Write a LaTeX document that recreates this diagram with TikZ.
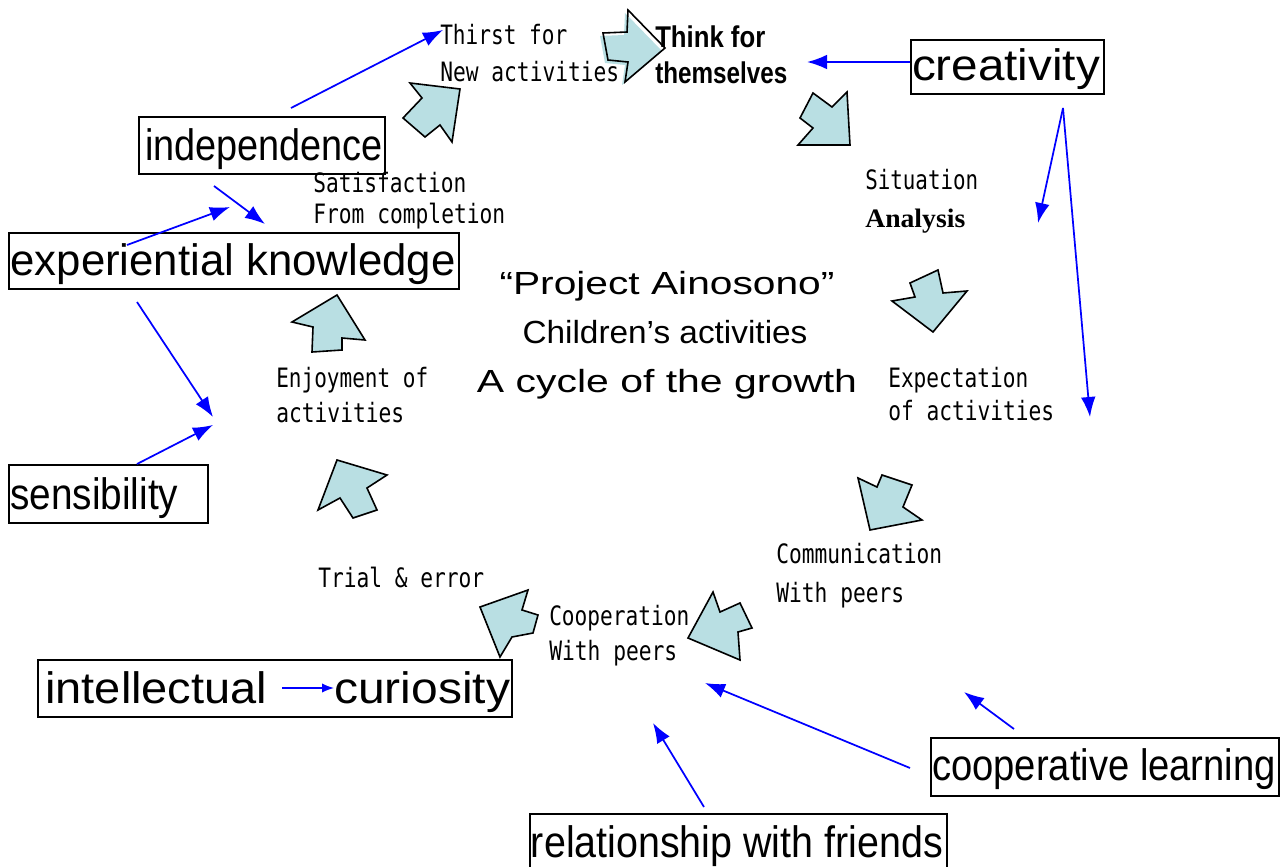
\documentclass[tikz,border=0pt]{standalone}
\usepackage{fontspec}
\usepackage{graphicx}
\setmainfont{Liberation Sans}
\newfontfamily\monofnt{DejaVu Sans Mono}
\newfontfamily\seriffnt{Liberation Serif}
\usetikzlibrary{arrows.meta}
\newlength\pu
\setlength\pu{0.75pt}
\newcommand\fitw[2]{\resizebox{#1\pu}{\height}{#2}}
\definecolor{arrfill}{RGB}{185,223,227}
\begin{document}
\begin{tikzpicture}[x=0.75pt,y=-0.75pt,
  box/.style={draw=black,line width=1.5pt,inner sep=0pt,anchor=north west},
  lbl/.style={inner sep=0pt,anchor=base west},
  clbl/.style={inner sep=0pt,anchor=base},
  big/.style={font=\fontsize{33}{38}\selectfont},
  sm/.style={font=\monofnt\fontsize{20}{23}\selectfont},
  ttl/.style={font=\fontsize{24}{28}\selectfont},
  bld/.style={font=\bfseries\fontsize{22.5}{26}\selectfont},
  conn/.style={blue,line width=1.3pt,-{Latex[length=15pt,width=11pt]}},
  blk/.style={fill=arrfill,draw=black,line width=1.2pt,line join=miter}]
\useasboundingbox (0,0) rectangle (1282,867);

% ---------- block arrows of the cycle ----------
\draw[blk] (410,83) -- (460,89) -- (452,142) -- (440,125) -- (425,137) -- (403,118) -- (422,98) -- cycle;
\begin{scope}[shift={(-3,3)}]
\fill[arrfill] (628,10) -- (665,48) -- (625,82) -- (628,62) -- (608,60) -- (603,33) -- (627,32) -- cycle;
\end{scope}
\draw[line width=1.2pt] (628,10) -- (665,48) -- (625,82) -- (628,62) -- (608,60) -- (603,33) -- (627,32) -- cycle;
\draw[blk] (800,118) -- (813,93) -- (832,107) -- (847,92) -- (850,145) -- (798,145) -- (813,128) -- cycle;
\draw[blk] (892,301) -- (915,297) -- (910,283) -- (938,270) -- (943,293) -- (967,291) -- (933,332) -- cycle;
\draw[blk] (858,478) -- (877,487) -- (882,475) -- (912,485) -- (903,507) -- (922,520) -- (870,530) -- cycle;
\draw[blk] (713,592) -- (720,612) -- (740,603) -- (752,628) -- (738,632) -- (740,660) -- (688,638) -- cycle;
\draw[blk] (480,607) -- (528,590) -- (522,610) -- (538,615) -- (533,633) -- (512,637) -- (500,657) -- cycle;
\draw[blk] (337,460) -- (387,475) -- (367,488) -- (377,510) -- (353,518) -- (340,498) -- (318,510) -- cycle;
\draw[blk] (292,322) -- (337,295) -- (365,340) -- (342,338) -- (342,350) -- (312,352) -- (313,327) -- cycle;

% ---------- cycle labels ----------
\node[lbl,sm] (thirst) at (440,45) {\fitw{127}{Thirst for}};
\node[lbl,sm] (newact) at (440,82) {\fitw{179}{New activities}};
\node[lbl,bld] (think) at (655,47) {\fitw{110}{Think for}};
\node[lbl,bld] (themselves) at (655,84) {\fitw{132}{themselves}};
\node[lbl,sm] (situation) at (865,189) {\fitw{113}{Situation}};
\node[lbl,font=\seriffnt\bfseries\fontsize{20}{23}\selectfont] (analysis) at (865,227) {\fitw{100}{Analysis}};
\node[lbl,sm] (expect) at (888,387) {\fitw{140}{Expectation}};
\node[lbl,sm] (ofact) at (888,420) {\fitw{166}{of activities}};
\node[lbl,sm] (commun) at (776,563) {\fitw{166}{Communication}};
\node[lbl,sm] (withp1) at (776,602) {\fitw{128}{With peers}};
\node[lbl,sm] (coopn) at (549,625) {\fitw{140}{Cooperation}};
\node[lbl,sm] (withp2) at (549,660) {\fitw{128}{With peers}};
\node[lbl,sm] (trial) at (318,587) {\fitw{166}{Trial \& error}};
\node[lbl,sm] (enjoy) at (276,387) {\fitw{152}{Enjoyment of}};
\node[lbl,sm] (acts) at (276,422) {\fitw{128}{activities}};
\node[lbl,sm] (satis) at (313,192) {\fitw{153}{Satisfaction}};
\node[lbl,sm] (fromc) at (313,223) {\fitw{192}{From completion}};

% ---------- title ----------
\node[clbl,ttl] (t1) at (667,294) {\fitw{335}{“Project Ainosono”}};
\node[clbl,ttl] (t2) at (665,343) {\fitw{285}{Children’s activities}};
\node[clbl,ttl] (t3) at (667,392) {\fitw{380}{A cycle of the growth}};

% ---------- boxed qualities ----------
\node[box,minimum width=246\pu,minimum height=57\pu] (indep) at (138,116) {};
\node[clbl,big] (indepT) at (264,160) {\fitw{238}{independence}};
\node[box,minimum width=450\pu,minimum height=56\pu] (exper) at (8,232) {};
\node[clbl,big] (experT) at (233,275) {\fitw{445}{experiential knowledge}};
\node[box,minimum width=199\pu,minimum height=58\pu] (sens) at (8,464) {};
\node[lbl,big] (sensT) at (10,509) {\fitw{168}{sensibility}};
\node[box,minimum width=474\pu,minimum height=57\pu] (intel) at (37,659) {};
\node[lbl,big] (intelT) at (45,703) {\fitw{222}{intellectual}};
\node[lbl,big] (curioT) at (334,703) {\fitw{176}{curiosity}};
\node[box,minimum width=193\pu,minimum height=54\pu] (creat) at (910,39) {};
\node[clbl,big] (creatT) at (1006,80) {\fitw{188}{creativity}};
\node[box,minimum width=348\pu,minimum height=58\pu] (coop) at (930,737) {};
\node[clbl,big] (coopT) at (1104,780) {\fitw{344}{cooperative learning}};
\node[box,minimum width=417\pu,minimum height=62\pu] (relat) at (529,813) {};
\node[clbl,big] (relatT) at (737,857) {\fitw{412}{relationship with friends}};

% ---------- connector end points ----------
\coordinate (aS) at (291,108);  \coordinate (aE) at (443,30);
\coordinate (bS) at (214,186);  \coordinate (bE) at (265,224);
\coordinate (cS) at (127,245);  \coordinate (cE) at (230,207);
\coordinate (dS) at (137,302);  \coordinate (dE) at (213,417);
\coordinate (eS) at (137,464);  \coordinate (eE) at (213,425);
\coordinate (fS) at (910,62);   \coordinate (fE) at (807,62);
\coordinate (gS) at (1063,108); \coordinate (gE) at (1038,223);
\coordinate (hE) at (1090,417);
\coordinate (jS) at (1014,729); \coordinate (jE) at (964,692);
\coordinate (kS) at (910,768);  \coordinate (kE) at (705,683);
\coordinate (lS) at (704,807);  \coordinate (lE) at (653,723);
\coordinate (iS) at (282,688);  \coordinate (iE) at (334,688);

% ---------- blue connectors ----------
\draw[conn] (aS) -- (aE);
\draw[conn] (bS) -- (bE);
\draw[conn] (cS) -- (cE);
\draw[conn] (dS) -- (dE);
\draw[conn] (eS) -- (eE);
\draw[conn] (fS) -- (fE);
\draw[conn] (gS) -- (gE);
\draw[conn] (gS) -- (hE);
\draw[conn] (jS) -- (jE);
\draw[conn] (kS) -- (kE);
\draw[conn] (lS) -- (lE);
\draw[blue,line width=1.1pt,-{Latex[length=9pt,width=7pt]}] (iS) -- (iE);
\end{tikzpicture}
\end{document}
